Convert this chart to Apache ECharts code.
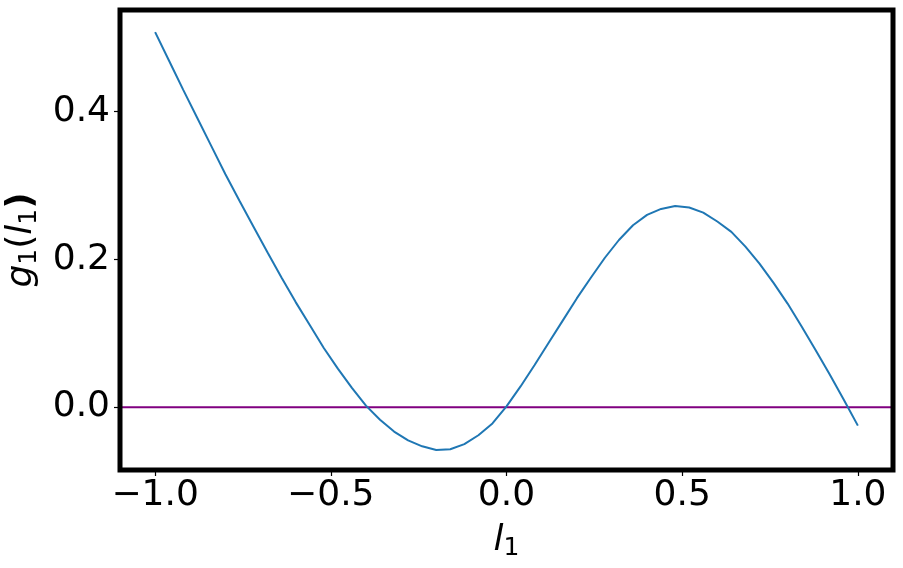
<!DOCTYPE html>
<html>
<head>
<meta charset="utf-8">
<script src="https://cdn.jsdelivr.net/npm/echarts@6/dist/echarts.min.js"></script>
<style>
  html, body { margin: 0; padding: 0; background: #fff; }
  #main { width: 903px; height: 568px; }
</style>
</head>
<body>
<div id="main"></div>
<script>
// l1 values (x) and g1(l1)
const lValues = [
  -1.00, -0.96, -0.92, -0.88, -0.84, -0.80, -0.76, -0.72, -0.68, -0.64,
  -0.60, -0.56, -0.52, -0.48, -0.44, -0.40, -0.36, -0.32, -0.28, -0.24,
  -0.20, -0.16, -0.12, -0.08, -0.04, 0.00, 0.04, 0.08, 0.12, 0.16,
  0.20, 0.24, 0.28, 0.32, 0.36, 0.40, 0.44, 0.48, 0.52, 0.56,
  0.60, 0.64, 0.68, 0.72, 0.76, 0.80, 0.84, 0.88, 0.92, 0.96, 1.00
]
const gValues = [
  0.507, 0.468, 0.429, 0.391, 0.353, 0.315, 0.279, 0.244, 0.209, 0.175,
  0.142, 0.111, 0.080, 0.052, 0.026, 0.002, -0.017, -0.033, -0.045, -0.053,
  -0.058, -0.057, -0.050, -0.038, -0.022, 0.001, 0.028, 0.057, 0.087, 0.117,
  0.147, 0.175, 0.202, 0.226, 0.246, 0.260, 0.268, 0.272, 0.270, 0.263,
  0.251, 0.237, 0.217, 0.194, 0.168, 0.140, 0.109, 0.077, 0.044, 0.010, -0.025
]
// horizontal reference line at g = 0
const zeroLineX = [-1.1, 1.1]
const zeroLineY = [0, 0]

const xTicks = [-1.0, -0.5, 0.0, 0.5, 1.0]
const yTicks = [0.0, 0.2, 0.4]

const font = 'DejaVu Sans'
const fmt = v => v.toFixed(1).replace('-', '\u2212')

const chart = echarts.init(document.getElementById('main'))

const option = {
  animation: false,
  backgroundColor: '#ffffff',
  grid: {
    left: 120,
    right: 10,
    top: 10,
    bottom: 98,
    show: true,
    borderWidth: 5,
    borderColor: '#000000',
    outerBoundsMode: 'none',
    containLabel: false,
    z: 10
  },
  xAxis: {
    type: 'value',
    min: -1.1,
    max: 1.1,
    axisLine: { show: false, onZero: false },
    splitLine: { show: false },
    axisTick: {
      show: true,
      customValues: xTicks,
      length: 6,
      lineStyle: { color: '#000', width: 1.2 }
    },
    axisLabel: {
      customValues: xTicks,
      formatter: fmt,
      fontFamily: font,
      fontSize: 36,
      color: '#000',
      margin: 8
    },
    name: '{it|l}{sub|1}',
    nameLocation: 'middle',
    nameGap: 50,
    nameTextStyle: {
      rich: {
        it: { fontFamily: font, fontSize: 36, fontStyle: 'italic', color: '#000' },
        sub: { fontFamily: font, fontSize: 25, color: '#000', padding: [16, 0, 0, 0] }
      }
    }
  },
  yAxis: {
    type: 'value',
    min: -0.085,
    max: 0.537,
    axisLine: { show: false, onZero: false },
    splitLine: { show: false },
    axisTick: {
      show: true,
      customValues: yTicks,
      length: 6,
      lineStyle: { color: '#000', width: 1.2 }
    },
    axisLabel: {
      customValues: yTicks,
      formatter: fmt,
      fontFamily: font,
      fontSize: 36,
      color: '#000',
      margin: 10
    },
    name: '{it|g}{sub|1}{n|(}{it|l}{sub|1}{b|)}',
    nameLocation: 'middle',
    nameRotate: 90,
    nameGap: 62,
    nameTextStyle: {
      rich: {
        it: { fontFamily: font, fontSize: 36, fontStyle: 'italic', color: '#000' },
        n: { fontFamily: font, fontSize: 36, color: '#000' },
        b: { fontFamily: font, fontSize: 36, fontWeight: 'bold', color: '#000' },
        sub: { fontFamily: font, fontSize: 25, color: '#000', padding: [16, 0, 0, 0] }
      }
    }
  },
  series: [
    {
      type: 'line',
      data: zeroLineX.map((x, i) => [x, zeroLineY[i]]),
      showSymbol: false,
      lineStyle: { color: '#800080', width: 2 },
      silent: true
    },
    {
      type: 'line',
      data: lValues.map((x, i) => [x, gValues[i]]),
      showSymbol: false,
      lineStyle: { color: '#1f77b4', width: 2 }
    }
  ]
}

chart.setOption(option)
</script>
</body>
</html>
